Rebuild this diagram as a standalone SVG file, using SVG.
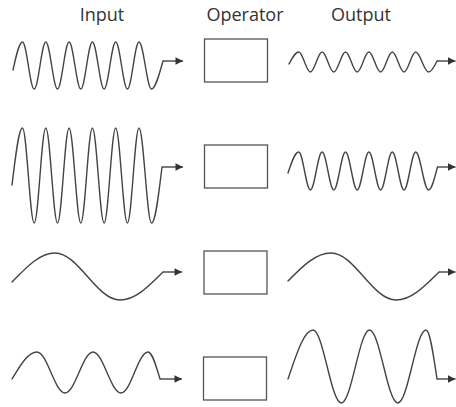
<svg xmlns="http://www.w3.org/2000/svg" width="456" height="407" viewBox="0 0 456 407">
  <style>
    .label { font-family: "Open Sans", "Noto Sans", "DejaVu Sans", sans-serif; font-size: 18px; fill: #333; text-anchor: middle; }
    .wave { fill: none; stroke: #444; stroke-width: 1.4; stroke-linejoin: round; stroke-linecap: round; }
    .box { fill: #fff; stroke: #555; stroke-width: 1.3; }
    .arrow { fill: none; stroke: #444; stroke-width: 1.4; marker-end: url(#head); }
  </style>
  <defs>
    <marker id="head" viewBox="0 0 10 10" refX="10" refY="5" markerWidth="9" markerHeight="7.5" markerUnits="userSpaceOnUse" orient="auto">
      <path d="M0,0 L10,5 L0,10 z" fill="#333"/>
    </marker>
  </defs>

  <rect width="456" height="407" fill="#fff"/>

  <!-- column headings -->
  <g id="headings">
    <text class="label" x="102" y="21">Input</text>
    <text class="label" x="245" y="21">Operator</text>
    <text class="label" x="361" y="21">Output</text>
  </g>

  <!-- row 1: high frequency in, damped amplitude out -->
  <g id="input-1">
    <path class="wave" d="M13,70 C16.1,56 19.1,42 22.5,42 C26.74,42 29.96,89 34.2,89 C38.44,89 41.56,42 45.8,42 C50.04,42 53.26,89 57.5,89 C61.74,89 64.86,42 69.1,42 C73.34,42 76.56,89 80.8,89 C85.04,89 88.16,42 92.4,42 C96.64,42 99.86,89 104.1,89 C108.34,89 111.46,42 115.7,42 C119.94,42 123.16,89 127.4,89 C131.64,89 134.76,42 139,42 C143.55,42 146.95,89 151.5,89 C155.5,89 159,75 163,61"/>
  </g>
  <g id="operator-1"><rect class="box" x="204.5" y="39" width="63" height="43"/></g>
  <g id="output-1">
    <path class="wave" d="M289,64 C292.2,58 295.2,52 298.7,52 C302.96,52 306.14,72 310.4,72 C314.66,72 317.84,52 322.1,52 C326.36,52 329.54,72 333.8,72 C338.06,72 341.24,52 345.5,52 C349.76,52 352.94,72 357.2,72 C361.46,72 364.64,52 368.9,52 C373.16,52 376.34,72 380.6,72 C384.86,72 388.04,52 392.3,52 C396.56,52 399.74,72 404,72 C408.26,72 411.44,52 415.7,52 C420.36,52 423.84,72 428.5,72 C431.3,72 434.4,66.5 437,61"/>
  </g>

  <!-- row 2: high frequency, large amplitude -->
  <g id="input-2">
    <path class="wave" d="M12,185 C15.5,156.5 18.7,128 22.5,128 C26.74,128 29.96,223 34.2,223 C38.44,223 41.56,128 45.8,128 C50.04,128 53.26,223 57.5,223 C61.74,223 64.86,128 69.1,128 C73.34,128 76.56,223 80.8,223 C85.04,223 88.16,128 92.4,128 C96.64,128 99.86,223 104.1,223 C108.34,223 111.46,128 115.7,128 C119.94,128 123.16,223 127.4,223 C131.64,223 134.76,128 139,128 C143.55,128 146.95,223 151.5,223 C155.5,223 158.6,195 162,167"/>
  </g>
  <g id="operator-2"><rect class="box" x="204.5" y="145" width="63" height="43"/></g>
  <g id="output-2">
    <path class="wave" d="M288,173 C291.5,162.5 294.8,152 298.7,152 C302.96,152 306.14,190 310.4,190 C314.66,190 317.84,152 322.1,152 C326.36,152 329.54,190 333.8,190 C338.06,190 341.24,152 345.5,152 C349.76,152 352.94,190 357.2,190 C361.46,190 364.64,152 368.9,152 C373.16,152 376.34,190 380.6,190 C384.86,190 388.04,152 392.3,152 C396.56,152 399.74,190 404,190 C408.26,190 411.44,152 415.7,152 C420.36,152 423.84,190 428.5,190 C431.8,190 434.5,178.5 437.5,167"/>
  </g>

  <!-- row 3: low frequency passes unchanged -->
  <g id="input-3">
    <path class="wave" d="M12,282 C26.2,267.5 39.5,253 55,253 C78.7,253 96.3,300 120,300 C135.5,300 148.8,286 163,272"/>
  </g>
  <g id="operator-3"><rect class="box" x="204" y="251" width="63" height="43"/></g>
  <g id="output-3">
    <path class="wave" d="M288,281 C302.2,266.5 315.5,253 331,253 C354.7,253 372.3,300 396,300 C411.5,300 424.8,286 439,272"/>
  </g>

  <!-- row 4: mid frequency, amplified -->
  <g id="input-4">
    <path class="wave" d="M12,379 C20.3,365.5 28,352 37,352 C47.2,352 54.8,393 65,393 C75.2,393 82.8,352 93,352 C103.2,352 110.8,393 121,393 C130.8,393 138.2,352 148,352 C152.3,352 156,365.5 160,379"/>
  </g>
  <g id="operator-4"><rect class="box" x="203.5" y="357" width="63" height="43"/></g>
  <g id="output-4">
    <path class="wave" d="M288,379 C296.3,354.5 304,330 313,330 C323.3,330 331,403 341.3,403 C351.6,403 359.3,330 369.5,330 C379.8,330 387.5,403 397.8,403 C408.1,403 415.7,330 426,330 C430,330 433.4,354.5 437,379"/>
  </g>

  <!-- arrow leads at the end of each wave -->
  <g id="connectors">
    <path class="arrow" d="M163,61 H183"/>
    <path class="arrow" d="M437,61 H455.5"/>
    <path class="arrow" d="M162,167 H183"/>
    <path class="arrow" d="M437.5,167 H455.5"/>
    <path class="arrow" d="M163,272 H182"/>
    <path class="arrow" d="M439,272 H455.5"/>
    <path class="arrow" d="M160,379 H182"/>
    <path class="arrow" d="M437,379 H455.5"/>
  </g>
</svg>
